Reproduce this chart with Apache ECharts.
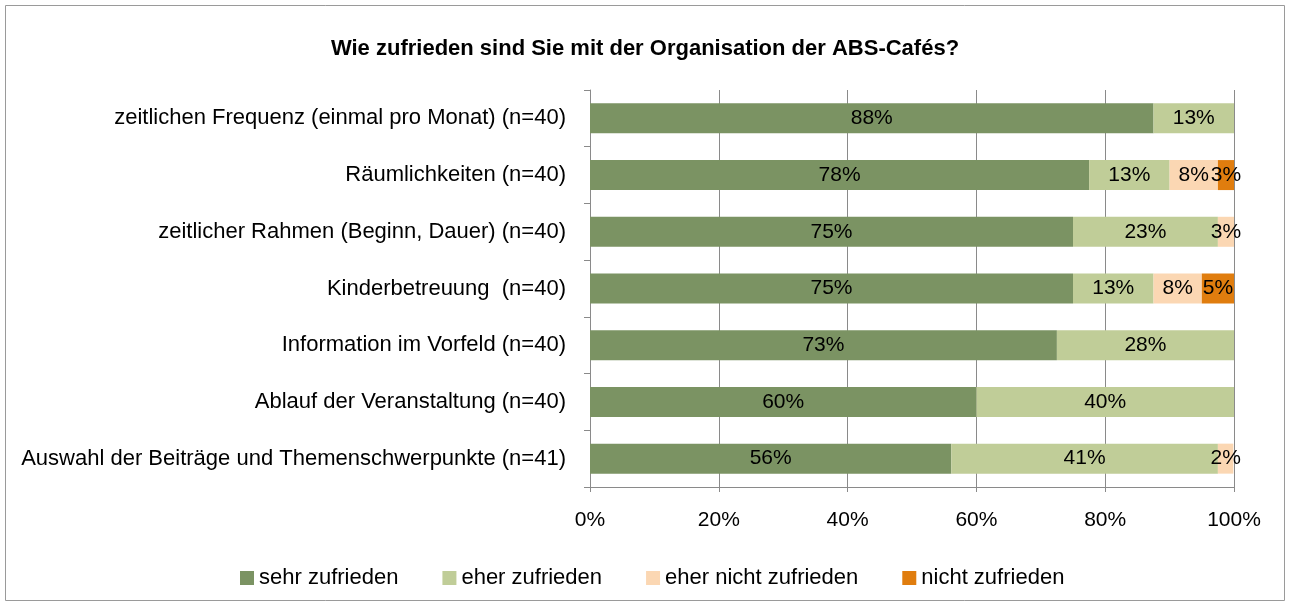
<!DOCTYPE html>
<html lang="de">
  <head>
    <meta charset="UTF-8" />
    <title>ABS-Cafés</title>
    <script src="https://cdn.jsdelivr.net/npm/echarts@6.0.0/dist/echarts.min.js"></script>
    <style>
      body { margin: 0; background: #fff; }
    </style>
  </head>
  <body>
    <div id="main" style="width: 1290px; height: 606px"></div>
    <script type="text/javascript">
      const categories = [
        'zeitlichen Frequenz (einmal pro Monat) (n=40)',
        'Räumlichkeiten (n=40)',
        'zeitlicher Rahmen (Beginn, Dauer) (n=40)',
        'Kinderbetreuung  (n=40)',
        'Information im Vorfeld (n=40)',
        'Ablauf der Veranstaltung (n=40)',
        'Auswahl der Beiträge und Themenschwerpunkte (n=41)'
      ];
      const seriesNames = ['sehr zufrieden', 'eher zufrieden', 'eher nicht zufrieden', 'nicht zufrieden'];
      const sehrZufrieden = [87.5, 77.5, 75, 75, 72.5, 60, 56.1];
      const eherZufrieden = [12.5, 12.5, 22.5, 12.5, 27.5, 40, 41.4];
      const eherNichtZufrieden = [0, 7.5, 2.5, 7.5, 0, 0, 2.4];
      const nichtZufrieden = [0, 2.5, 0, 5, 0, 0, 0];
      const colors = ['#7b9363', '#c0cd98', '#fbd7b3', '#e07d0e'];
      const xTicks = [0, 20, 40, 60, 80, 100];

      const font = '"Liberation Sans", Arial, sans-serif';
      const gray = '#8a8a8a';

      let myChart = echarts.init(document.getElementById('main'));

      const values = [sehrZufrieden, eherZufrieden, eherNichtZufrieden, nichtZufrieden];
      const series = values.map((vals, i) => ({
        name: seriesNames[i],
        type: 'bar',
        stack: 'total',
        barWidth: 30,
        itemStyle: { color: colors[i] },
        label: {
          show: true,
          position: 'inside',
          color: '#000',
          fontFamily: font,
          fontSize: 21,
          formatter: (p) => (p.value > 0 ? Math.round(p.value) + '%' : '')
        },
        data: vals
      }));

      let options = {
        animation: false,
        title: {
          text: 'Wie zufrieden sind Sie mit der Organisation der ABS-Cafés?',
          left: 'center',
          top: 33,
          textStyle: { fontFamily: font, fontSize: 22, fontWeight: 'bold', color: '#000' }
        },
        legend: {
          left: 235,
          top: 562,
          icon: 'rect',
          itemWidth: 14,
          itemHeight: 14,
          itemGap: 44,
          textStyle: { fontFamily: font, fontSize: 22, color: '#000' },
          data: seriesNames
        },
        grid: { left: 590, right: 56, top: 90, bottom: 119 },
        xAxis: {
          type: 'value',
          min: xTicks[0],
          max: xTicks[xTicks.length - 1],
          interval: 20,
          axisLine: { show: true, lineStyle: { color: gray } },
          axisTick: { show: true, length: 5, lineStyle: { color: gray } },
          splitLine: { show: true, lineStyle: { color: gray } },
          axisLabel: {
            margin: 23,
            color: '#000',
            fontFamily: font,
            fontSize: 21,
            formatter: '{value}%'
          }
        },
        yAxis: {
          type: 'category',
          inverse: true,
          data: categories,
          axisLine: { show: true, lineStyle: { color: gray } },
          axisTick: { show: true, length: 6, lineStyle: { color: gray } },
          axisLabel: {
            margin: 24,
            color: '#000',
            fontFamily: font,
            fontSize: 22
          }
        },
        graphic: [
          {
            type: 'rect',
            shape: { x: 5.5, y: 5.5, width: 1279, height: 595 },
            style: { fill: 'none', stroke: '#9a9a9a', lineWidth: 1 }
          }
        ],
        series: series
      };

      myChart.setOption(options);
    </script>
  </body>
</html>
